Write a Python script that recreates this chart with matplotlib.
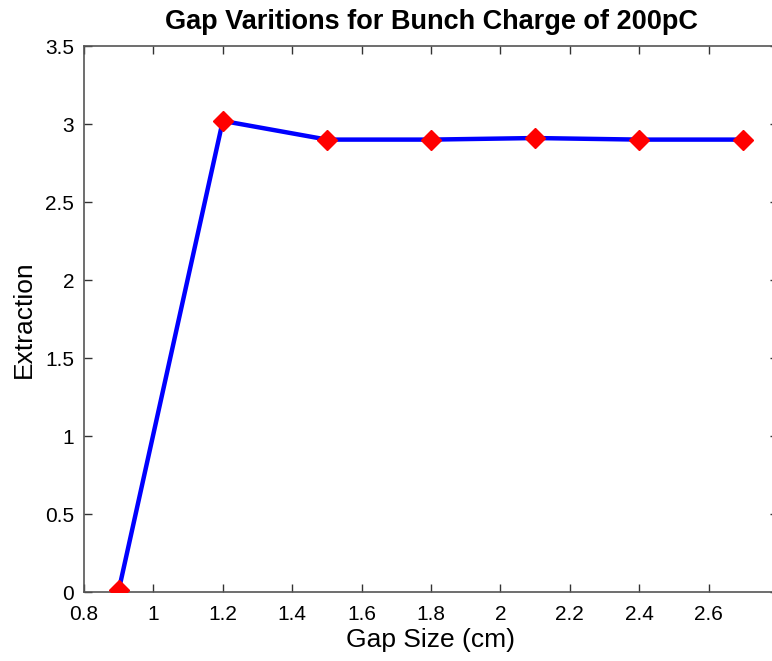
import matplotlib
matplotlib.use("Agg")
import matplotlib.pyplot as plt

gap_size = [0.9, 1.2, 1.5, 1.8, 2.1, 2.4, 2.7]
extraction = [0.01, 3.02, 2.90, 2.90, 2.91, 2.90, 2.90]
x_ticks = [0.8, 1.0, 1.2, 1.4, 1.6, 1.8, 2.0, 2.2, 2.4, 2.6]
x_tick_labels = ["0.8", "1", "1.2", "1.4", "1.6", "1.8", "2", "2.2", "2.4", "2.6"]
y_ticks = [0, 0.5, 1, 1.5, 2, 2.5, 3, 3.5]
y_tick_labels = ["0", "0.5", "1", "1.5", "2", "2.5", "3", "3.5"]

plt.rcParams['font.family'] = ['Liberation Sans', 'DejaVu Sans']

fig = plt.figure(figsize=(7.72, 6.61), dpi=100)
W, H = 772, 661
ax = fig.add_axes([84 / W, (H - 592) / H, 694 / W, (592 - 46) / H])

ax.plot(gap_size, extraction, color='#0000ff', linewidth=3.2, marker='D',
        markersize=10, markerfacecolor='#ff0000', markeredgecolor='#ff0000', zorder=3)

ax.set_xlim(0.8, 2.8)
ax.set_ylim(0, 3.5)
ax.set_xticks(x_ticks)
ax.set_xticklabels(x_tick_labels)
ax.set_yticks(y_ticks)
ax.set_yticklabels(y_tick_labels)
ax.tick_params(direction='in', top=True, right=True, labelsize=15, length=6,
               width=1, color='#333333')
ax.tick_params(axis='x', pad=9)
ax.tick_params(axis='y', pad=7)
for s in ax.spines.values():
    s.set_color('#555555')
    s.set_linewidth(1.2)

ax.set_xlabel('Gap Size (cm)', fontsize=19, labelpad=3)
ax.set_ylabel('Extraction', fontsize=19, labelpad=7)
ax.set_title('Gap Varitions for Bunch Charge of 200pC', fontsize=19.5, fontweight='bold', pad=12)

fig.savefig('out.png', dpi=100)
